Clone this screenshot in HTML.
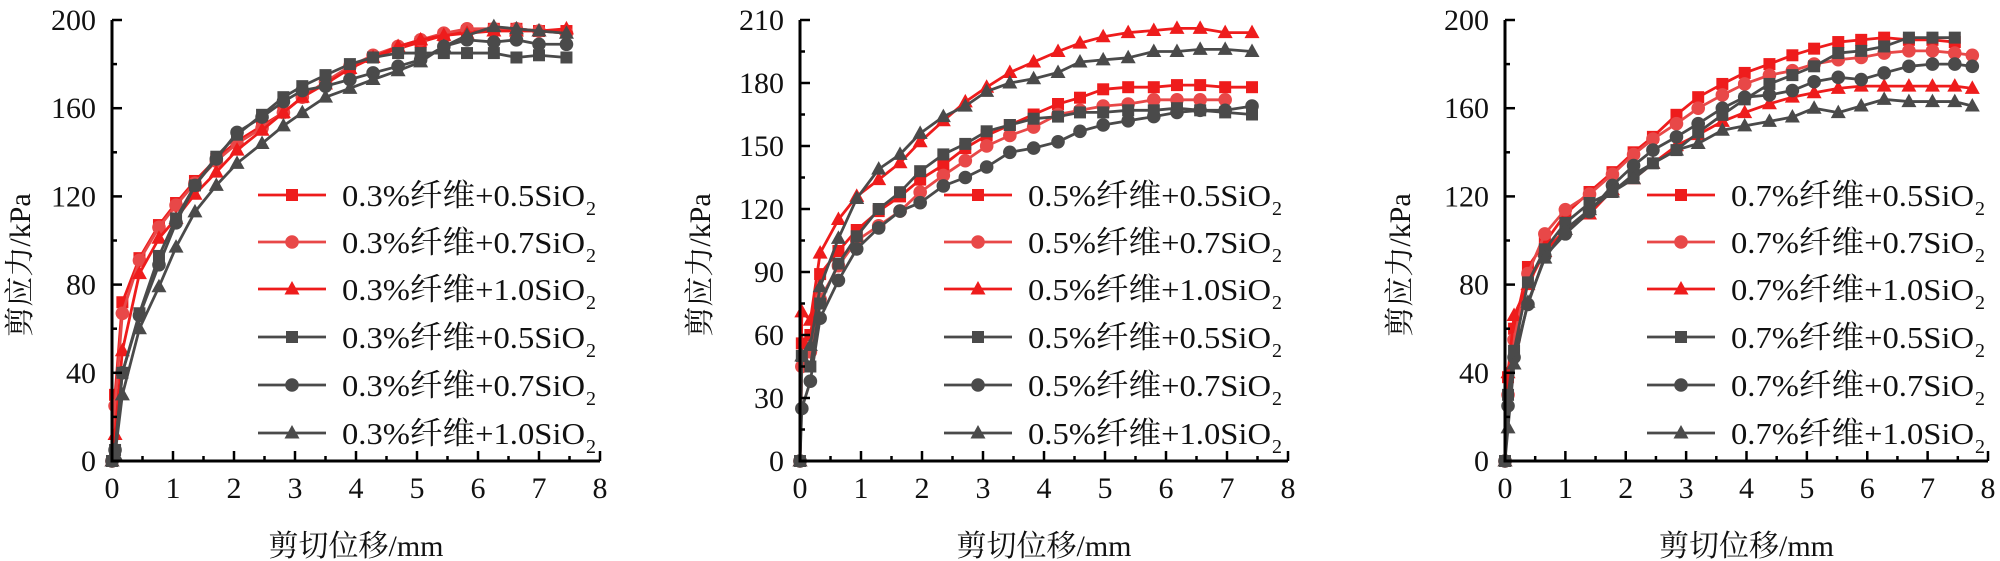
<!DOCTYPE html>
<html><head><meta charset="utf-8">
<style>
html,body{margin:0;padding:0;background:#fff;}
svg{display:block;}
text{font-family:"Liberation Serif","Noto Serif CJK SC","Noto Sans CJK SC",serif;fill:#111;}
</style></head>
<body>
<svg id="chart" width="2000" height="561" viewBox="0 0 2000 561" xmlns="http://www.w3.org/2000/svg"></svg>
<script>
// ---- data ----
const xTicks = [0,1,2,3,4,5,6,7,8];
const yTicks1 = [0,40,80,120,160,200];
const yTicks2 = [0,30,60,90,120,150,180,210];
const yTicks3 = [0,40,80,120,160,200];
const seriesNames1 = ["0.3%纤维+0.5SiO","0.3%纤维+0.7SiO","0.3%纤维+1.0SiO","0.3%纤维+0.5SiO","0.3%纤维+0.7SiO","0.3%纤维+1.0SiO"];
const seriesNames2 = ["0.5%纤维+0.5SiO","0.5%纤维+0.7SiO","0.5%纤维+1.0SiO","0.5%纤维+0.5SiO","0.5%纤维+0.7SiO","0.5%纤维+1.0SiO"];
const seriesNames3 = ["0.7%纤维+0.5SiO","0.7%纤维+0.7SiO","0.7%纤维+1.0SiO","0.7%纤维+0.5SiO","0.7%纤维+0.7SiO","0.7%纤维+1.0SiO"];

const x1 = [0,0.05,0.17,0.45,0.77,1.05,1.36,1.71,2.05,2.46,2.81,3.12,3.5,3.9,4.28,4.69,5.06,5.44,5.82,6.26,6.63,7.0,7.45];
const p1RedSquare = [0,30,72,92,107,117,127,137,145,152,158,165,172,178,183,187,190,193,195,196,196,195,195];
const p1RedCircle = [0,25,67,91,106,116,126,136,144,151,158,165,172,179,184,188,191,194,196,196,196,195,194];
const p1RedTriangle = [0,12,50,85,101,110,121,131,141,150,158,165,171,178,183,188,191,193,194,195,195,195,196];
const p1GreySquare = [0,5,40,67,93,110,125,138,148,157,165,170,175,180,183,185,185,185,185,185,183,184,183];
const p1GreyCircle = [0,5,40,66,89,108,125,137,149,156,163,168,170,173,176,179,182,188,191,190,191,189,189];
const p1GreyTriangle = [0,3,30,60,79,97,113,125,135,144,152,158,165,169,173,177,181,188,193,197,196,195,194];

const x2 = [0,0.03,0.17,0.33,0.63,0.93,1.29,1.64,1.97,2.35,2.71,3.06,3.44,3.83,4.23,4.59,4.97,5.38,5.8,6.18,6.56,6.97,7.41];
const p2RedSquare = [0,56,60,89,100,110,119,126,134,141,149,155,160,165,170,173,177,178,178,179,179,178,178];
const p2RedCircle = [0,45,52,77,93,105,112,119,128,136,143,150,155,159,165,167,169,170,172,172,172,172];
const p2RedTriangle = [0,71,67,99,115,126,134,142,152,162,171,178,185,190,195,199,202,204,205,206,206,204,204];
const p2GreySquare = [0,50,45,75,94,107,120,128,138,146,151,157,160,163,164,166,166,167,167,168,167,166,165];
const p2GreyCircle = [0,25,38,68,86,101,111,119,123,131,135,140,147,149,152,157,160,162,164,166,167,167,169];
const p2GreyTriangle = [0,50,55,83,106,125,139,146,156,164,169,176,180,182,185,190,191,192,195,195,196,196,195];

const x3 = [0,0.05,0.15,0.38,0.66,1.0,1.4,1.78,2.13,2.45,2.84,3.2,3.6,3.97,4.38,4.76,5.12,5.52,5.9,6.28,6.69,7.08,7.45,7.74];
const p3RedSquare = [0,38,60,88,99,112,122,131,140,147,157,165,171,176,180,184,187,190,191,192,191,191,190];
const p3RedCircle = [0,30,55,85,103,114,121,130,139,146,153,160,166,171,175,177,180,182,183,185,186,186,185,184];
const p3RedTriangle = [0,40,66,80,95,105,112,123,128,135,143,148,154,158,162,165,167,169,170,170,170,170,170,169];
const p3GreySquare = [0,30,50,81,96,108,117,122,130,135,141,149,157,164,171,175,179,185,186,188,192,192,192];
const p3GreyCircle = [0,25,47,71,93,103,113,125,134,141,147,153,160,165,166,168,172,174,173,176,179,180,180,179];
const p3GreyTriangle = [0,15,44,72,92,105,114,122,128,135,141,144,150,152,154,156,160,158,161,164,163,163,163,161];

// ---- drawing ----
const NS = "http://www.w3.org/2000/svg";
const svg = document.getElementById('chart');
function mk(tag, attrs, parent){
  const e = document.createElementNS(NS, tag);
  for (const k in attrs) e.setAttribute(k, attrs[k]);
  (parent||svg).appendChild(e);
  return e;
}
const RED = "#ee1c1c", LRED = "#e84848", GREY = "#4a4a4a";
const styles = [
  {c:RED, m:"square"},{c:LRED, m:"circle"},{c:RED, m:"triangle"},
  {c:GREY, m:"square"},{c:GREY, m:"circle"},{c:GREY, m:"triangle"}
];
function marker(g, type, cx, cy, color){
  let e;
  if (type === "square") e = mk('rect', {x:cx-6, y:cy-6, width:12, height:12, fill:color}, g);
  else if (type === "circle") e = mk('circle', {cx:cx, cy:cy, r:6.8, fill:color}, g);
  else e = mk('polygon', {points:`${cx},${cy-8} ${cx+7.5},${cy+5.5} ${cx-7.5},${cy+5.5}`, fill:color}, g);
  
  
  return e;
}

function panel(id, x0, x8, yMax, yTicks, xs, series, names, legX, titleX){
  const top = 20, bottom = 461;
  const sx = v => x0 + (x8 - x0) * v / 8;
  const sy = v => bottom - (bottom - top) * v / yMax;
  const g = mk('g', {});
  
  

  // series
  series.forEach((ys, i) => {
    const st = styles[i];
    const sg = mk('g', {}, g);
    
    
    const pts = ys.map((v, j) => sx(xs[j]) + ',' + sy(v)).join(' ');
    const pl = mk('polyline', {points:pts, fill:'none', stroke:st.c, 'stroke-width':2.8, 'stroke-linejoin':'round'}, sg);
    
    
    ys.forEach((v, j) => marker(sg, st.m, sx(xs[j]), sy(v), st.c));
  });

  // axes
  const ax = mk('path', {d:`M${x0},${top} V${bottom} H${x8}`, fill:'none', stroke:'#000', 'stroke-width':3}, g);
  
  
  // y ticks
  const step = yTicks[1] - yTicks[0];
  yTicks.forEach((t, i) => {
    const y = sy(t);
    mk('line', {x1:x0, x2:x0+10, y1:y, y2:y, stroke:'#000', 'stroke-width':2.5}, g);
    if (i < yTicks.length - 1) {
      const ym = sy(t + step/2);
      mk('line', {x1:x0, x2:x0+5, y1:ym, y2:ym, stroke:'#000', 'stroke-width':2.5}, g);
    }
    const tx = mk('text', {x:x0-16, y:y+10, 'font-size':30, 'text-anchor':'end'}, g);
    
    
    tx.textContent = t;
  });
  // x ticks
  xTicks.forEach((t, i) => {
    const x = sx(t);
    mk('line', {x1:x, x2:x, y1:bottom, y2:bottom-10, stroke:'#000', 'stroke-width':2.5}, g);
    if (i < xTicks.length - 1) {
      const xm = sx(t + 0.5);
      mk('line', {x1:xm, x2:xm, y1:bottom, y2:bottom-5, stroke:'#000', 'stroke-width':2.5}, g);
    }
    const tx = mk('text', {x:x, y:498, 'font-size':30, 'text-anchor':'middle'}, g);
    
    
    tx.textContent = t;
  });
  // axis titles
  const xt = mk('text', {x:(x0+x8)/2, y:556, 'font-size':30, 'text-anchor':'middle'}, g);
  
  
  xt.textContent = '剪切位移/mm';
  const yt = mk('text', {x:0, y:0, 'font-size':30, 'text-anchor':'middle', transform:`translate(${titleX},265) rotate(-90)`}, g);
  
  
  yt.textContent = '剪应力/kPa';

  // legend
  const rows = [195,242,289,337,385,433];
  const lg = mk('g', {}, g);
  
  
  names.forEach((n, i) => {
    const st = styles[i];
    const eg = mk('g', {}, lg);
    
    
    mk('line', {x1:legX-84, x2:legX-16, y1:rows[i], y2:rows[i], stroke:st.c, 'stroke-width':2.8}, eg);
    marker(eg, st.m, legX-50, rows[i], st.c);
    const t = mk('text', {x:legX, y:rows[i]+11, 'font-size':31, textLength:243, lengthAdjust:'spacingAndGlyphs'}, eg);
    t.textContent = n;
    const s = mk('text', {x:legX+244, y:rows[i]+20, 'font-size':20}, eg);
    s.textContent = '2';
  });
}

panel('panel-0.3-fiber', 112, 600, 200, yTicks1, x1,
  [p1RedSquare,p1RedCircle,p1RedTriangle,p1GreySquare,p1GreyCircle,p1GreyTriangle], seriesNames1, 342, 30);
panel('panel-0.5-fiber', 800, 1288, 210, yTicks2, x2,
  [p2RedSquare,p2RedCircle,p2RedTriangle,p2GreySquare,p2GreyCircle,p2GreyTriangle], seriesNames2, 1028, 710);
panel('panel-0.7-fiber', 1505, 1988, 200, yTicks3, x3,
  [p3RedSquare,p3RedCircle,p3RedTriangle,p3GreySquare,p3GreyCircle,p3GreyTriangle], seriesNames3, 1731, 1410);
</script>
</body></html>
